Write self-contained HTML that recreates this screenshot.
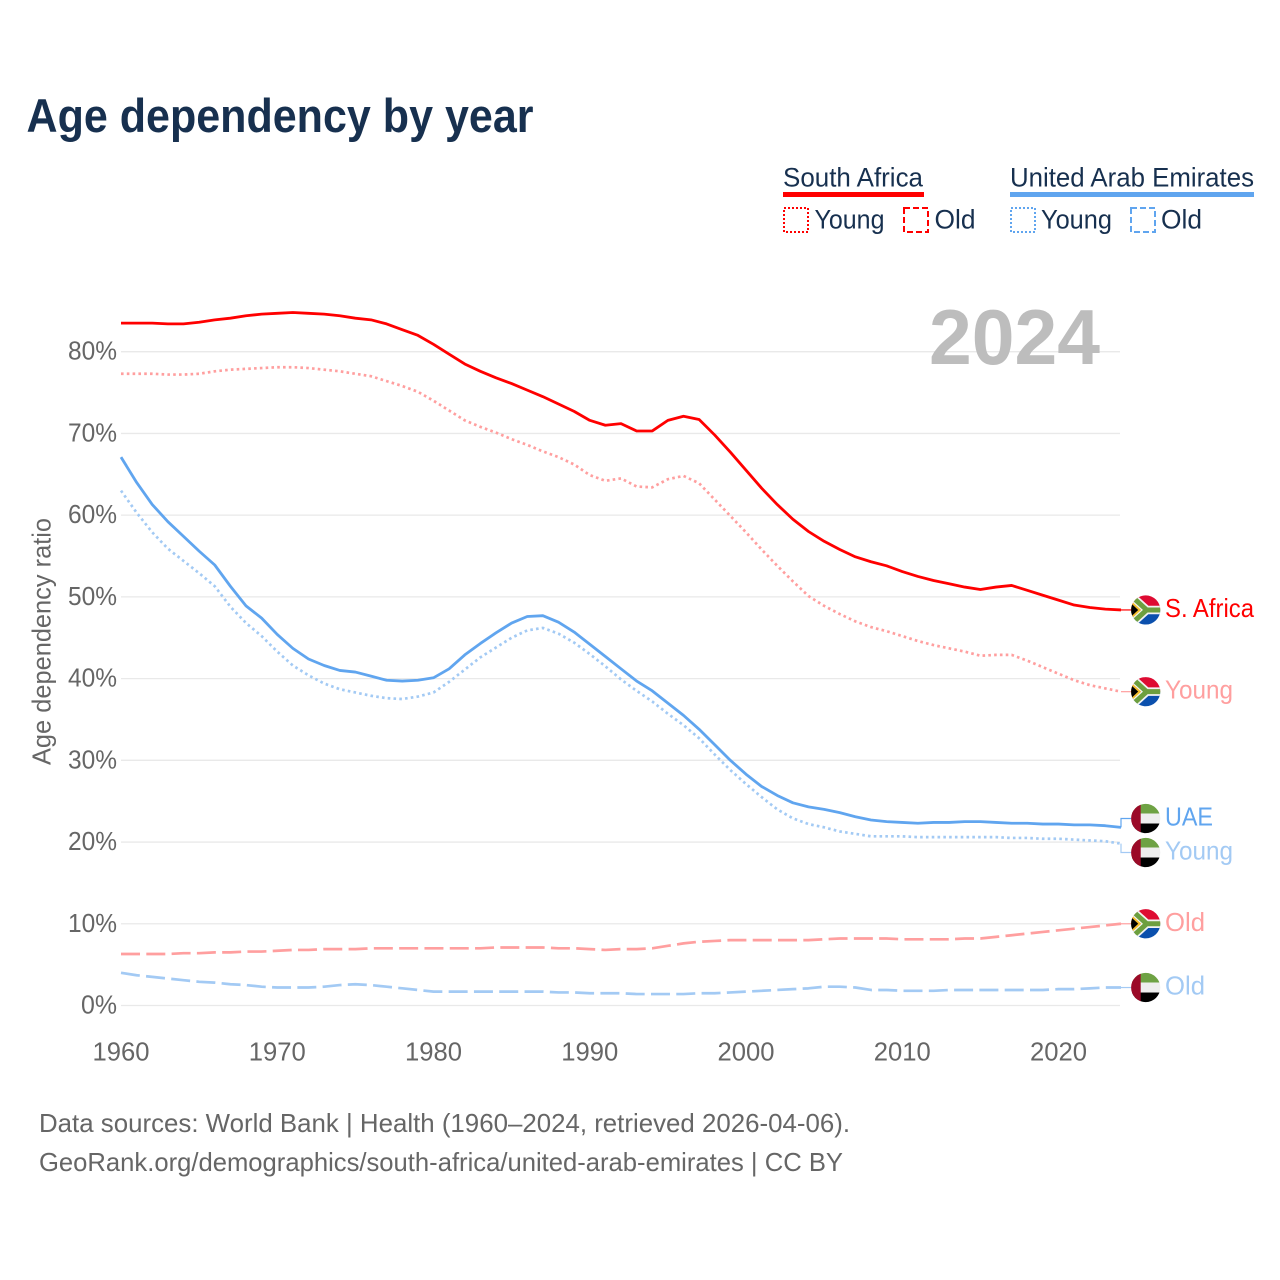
<!DOCTYPE html>
<html lang="en">
<head>
<meta charset="utf-8">
<title>Age dependency by year</title>
<style>
html,body{margin:0;padding:0;background:#fff;}
svg{display:block;font-family:"Liberation Sans",Arial,sans-serif;}
</style>
</head>
<body>
<svg id="chart" xmlns="http://www.w3.org/2000/svg" width="1280" height="1280" viewBox="0 0 1280 1280">
  <defs>
    <clipPath id="flag-clip"><circle cx="0" cy="0" r="14.6"/></clipPath>
    <g id="flag-za" clip-path="url(#flag-clip)">
      <rect x="-15" y="-15" width="30" height="15" fill="#de0b32"/>
      <rect x="-15" y="0" width="30" height="15" fill="#0b50ad"/>
      <path d="M-15,-14.5 L1,0 L15,0 M-15,14.5 L1,0" fill="none" stroke="#f2f2f2" stroke-width="8.5"/>
      <path d="M-15,-14.5 L1,0 L15,0 M-15,14.5 L1,0" fill="none" stroke="#6d9f3f" stroke-width="5"/>
      <polygon points="-15,-9.5 -4.5,0 -15,9.5" fill="#f5bd2e"/>
      <polygon points="-15,-7 -7.5,0 -15,7" fill="#000"/>
    </g>
    <g id="flag-ae" clip-path="url(#flag-clip)">
      <rect x="-15" y="-15" width="30" height="10" fill="#6ea244"/>
      <rect x="-15" y="-5" width="30" height="10" fill="#eeeeee"/>
      <rect x="-15" y="5" width="30" height="10" fill="#000"/>
      <rect x="-15" y="-15" width="10" height="30" fill="#9b0a28"/>
    </g>
  </defs>

  <text x="26.5" y="132" font-size="47" font-weight="700" fill="#17304f" textLength="507" lengthAdjust="spacingAndGlyphs">Age dependency by year</text>

  <g fill="#17304f" font-size="27">
    <g>
      <text x="783" y="186.5" textLength="140" lengthAdjust="spacingAndGlyphs">South Africa</text>
      <rect x="783" y="192" width="141" height="5" fill="#ff0000"/>
      <rect x="784" y="208" width="24" height="24" fill="none" stroke="#ff0000" stroke-width="2" stroke-dasharray="2 2"/>
      <text x="814.5" y="228.5" textLength="70" lengthAdjust="spacingAndGlyphs">Young</text>
      <rect x="904" y="208" width="24" height="24" fill="none" stroke="#ff0000" stroke-width="2" stroke-dasharray="6 3"/>
      <text x="934.5" y="228.5" textLength="41" lengthAdjust="spacingAndGlyphs">Old</text>
    </g>
    <g>
      <text x="1010" y="186.5" textLength="244" lengthAdjust="spacingAndGlyphs">United Arab Emirates</text>
      <rect x="1010" y="192" width="244" height="5" fill="#60a5ef"/>
      <rect x="1011" y="208" width="24" height="24" fill="none" stroke="#60a5ef" stroke-width="2" stroke-dasharray="2 2"/>
      <text x="1041" y="228.5" textLength="71" lengthAdjust="spacingAndGlyphs">Young</text>
      <rect x="1131" y="208" width="24" height="24" fill="none" stroke="#60a5ef" stroke-width="2" stroke-dasharray="6 3"/>
      <text x="1161" y="228.5" textLength="41" lengthAdjust="spacingAndGlyphs">Old</text>
    </g>
  </g>

  <g id="grid"></g>
  <text x="929" y="364" font-size="78" font-weight="700" fill="#bdbdbd" textLength="171" lengthAdjust="spacingAndGlyphs">2024</text>
  <g id="y-ticks"></g>
  <g id="x-ticks"></g>
  <text transform="translate(50.5,765) rotate(-90)" font-size="26" fill="#666666" textLength="247" lengthAdjust="spacingAndGlyphs">Age dependency ratio</text>
  <g id="series"></g>
  <g id="end-labels"></g>

  <g font-size="26" fill="#666666">
    <text x="39" y="1132" textLength="811" lengthAdjust="spacingAndGlyphs">Data sources: World Bank | Health (1960–2024, retrieved 2026-04-06).</text>
    <text x="39" y="1171" textLength="804" lengthAdjust="spacingAndGlyphs">GeoRank.org/demographics/south-africa/united-arab-emirates | CC BY</text>
  </g>
</svg>
<script>
const firstYear = 1960;
const yTicks = [0, 10, 20, 30, 40, 50, 60, 70, 80];
const xTicks = [1960, 1970, 1980, 1990, 2000, 2010, 2020];

const southAfricaTotal = [
  83.5,83.5,83.5,83.4,83.4,83.6,83.9,84.1,84.4,84.6,
  84.7,84.8,84.7,84.6,84.4,84.1,83.9,83.4,82.7,82.0,
  80.9,79.7,78.5,77.6,76.8,76.1,75.3,74.5,73.6,72.7,
  71.6,71.0,71.2,70.3,70.3,71.6,72.1,71.7,69.8,67.7,
  65.5,63.3,61.3,59.5,58.0,56.8,55.8,54.9,54.3,53.8,
  53.1,52.5,52.0,51.6,51.2,50.9,51.2,51.4,50.8,50.2,
  49.6,49.0,48.7,48.5,48.4
];
const southAfricaYoung = [
  77.3,77.3,77.3,77.2,77.2,77.3,77.6,77.8,77.9,78.0,
  78.1,78.1,78.0,77.8,77.6,77.3,77.0,76.4,75.8,75.1,
  74.0,72.8,71.6,70.8,70.1,69.3,68.6,67.8,67.1,66.2,
  64.9,64.2,64.5,63.5,63.4,64.4,64.8,63.9,61.9,59.9,
  57.9,55.8,53.8,51.9,50.1,48.9,47.9,47.0,46.3,45.8,
  45.2,44.6,44.1,43.7,43.3,42.8,42.9,42.9,42.2,41.4,
  40.6,39.8,39.2,38.8,38.4
];
const southAfricaOld = [
  6.3,6.3,6.3,6.3,6.4,6.4,6.5,6.5,6.6,6.6,
  6.7,6.8,6.8,6.9,6.9,6.9,7.0,7.0,7.0,7.0,
  7.0,7.0,7.0,7.0,7.1,7.1,7.1,7.1,7.0,7.0,
  6.9,6.8,6.9,6.9,7.0,7.3,7.6,7.8,7.9,8.0,
  8.0,8.0,8.0,8.0,8.0,8.1,8.2,8.2,8.2,8.2,
  8.1,8.1,8.1,8.1,8.2,8.2,8.4,8.6,8.8,9.0,
  9.2,9.4,9.6,9.8,10.0
];
const uaeTotal = [
  67.1,64.0,61.3,59.2,57.4,55.6,53.9,51.3,48.9,47.4,
  45.4,43.7,42.4,41.6,41.0,40.8,40.3,39.8,39.7,39.8,
  40.1,41.2,42.9,44.3,45.6,46.8,47.6,47.7,46.9,45.7,
  44.2,42.7,41.2,39.7,38.5,37.0,35.5,33.8,31.9,30.0,
  28.3,26.8,25.7,24.8,24.3,24.0,23.6,23.1,22.7,22.5,
  22.4,22.3,22.4,22.4,22.5,22.5,22.4,22.3,22.3,22.2,
  22.2,22.1,22.1,22.0,21.8
];
const uaeYoung = [
  63.0,60.3,57.9,55.9,54.4,52.9,51.3,48.8,46.8,45.2,
  43.3,41.6,40.4,39.4,38.7,38.3,37.9,37.6,37.5,37.8,
  38.3,39.6,41.1,42.6,43.8,45.0,45.9,46.2,45.5,44.4,
  43.0,41.5,39.9,38.5,37.2,35.7,34.3,32.7,30.7,28.8,
  27.1,25.5,24.0,22.9,22.2,21.8,21.3,21.0,20.7,20.7,
  20.7,20.6,20.6,20.6,20.6,20.6,20.6,20.5,20.5,20.4,
  20.4,20.3,20.2,20.1,19.8
];
const uaeOld = [
  4.0,3.7,3.5,3.3,3.1,2.9,2.8,2.6,2.5,2.3,
  2.2,2.2,2.2,2.3,2.5,2.6,2.5,2.3,2.1,1.9,
  1.7,1.7,1.7,1.7,1.7,1.7,1.7,1.7,1.6,1.6,
  1.5,1.5,1.5,1.4,1.4,1.4,1.4,1.5,1.5,1.6,
  1.7,1.8,1.9,2.0,2.1,2.3,2.3,2.2,1.9,1.9,
  1.8,1.8,1.8,1.9,1.9,1.9,1.9,1.9,1.9,1.9,
  2.0,2.0,2.1,2.2,2.2
];

const SVG_NS = 'http://www.w3.org/2000/svg';
const xScale = function (year) { return 121 + (year - firstYear) * 15.625; };
const yScale = function (value) { return 1005.5 - value * 8.1725; };

function make(tag, attrs, parent) {
  const el = document.createElementNS(SVG_NS, tag);
  for (const k in attrs) el.setAttribute(k, attrs[k]);
  parent.appendChild(el);
  return el;
}

const gridGroup = document.getElementById('grid');
const yTickGroup = document.getElementById('y-ticks');
const xTickGroup = document.getElementById('x-ticks');
const seriesGroup = document.getElementById('series');
const labelGroup = document.getElementById('end-labels');

yTicks.forEach(function (tick) {
  const line = make('line', { x1: 121, x2: 1120, y1: yScale(tick), y2: yScale(tick), stroke: '#e9e9e9', 'stroke-width': 1.3 }, gridGroup);
  
  
  const label = make('text', { x: 117, y: yScale(tick) + 8, 'text-anchor': 'end', 'font-size': 26, fill: '#666666', textLength: tick === 0 ? 36 : 49, lengthAdjust: 'spacingAndGlyphs' }, yTickGroup);
  
  
  label.textContent = tick + '%';
});

xTicks.forEach(function (tick) {
  const label = make('text', { x: xScale(tick), y: 1060.5, 'text-anchor': 'middle', 'font-size': 26, fill: '#666666', textLength: 57, lengthAdjust: 'spacingAndGlyphs' }, xTickGroup);
  
  
  label.textContent = tick;
});

const seriesList = [
  { key: 'uae-old', values: uaeOld, color: '#a3caf4', width: 2.7, dash: '19 6.3', label: 'Old', flag: 'flag-ae' },
  { key: 'south-africa-old', values: southAfricaOld, color: '#ff9f9f', width: 2.7, dash: '19 6.3', label: 'Old', flag: 'flag-za' },
  { key: 'uae-young', values: uaeYoung, color: '#a3caf4', width: 2.7, dash: '2.6 3.2', label: 'Young', flag: 'flag-ae' },
  { key: 'south-africa-young', values: southAfricaYoung, color: '#ff9f9f', width: 2.7, dash: '2.6 3.2', label: 'Young', flag: 'flag-za' },
  { key: 'uae-total', values: uaeTotal, color: '#60a5ef', width: 2.8, dash: '', label: 'UAE', flag: 'flag-ae' },
  { key: 'south-africa-total', values: southAfricaTotal, color: '#ff0000', width: 2.8, dash: '', label: 'S. Africa', flag: 'flag-za' }
];
const labelWidths = { 'S. Africa': 89, 'Young': 68, 'UAE': 48, 'Old': 40 };

seriesList.forEach(function (s) {
  const pts = s.values.map(function (v, i) { return xScale(firstYear + i).toFixed(2) + ',' + yScale(v).toFixed(2); }).join(' ');
  const line = make('polyline', { points: pts, fill: 'none', stroke: s.color, 'stroke-width': s.width, 'stroke-linejoin': 'round', 'stroke-dasharray': s.dash }, seriesGroup);
  
  
});

/* Spread end labels so flags do not collide. */
const placed = seriesList.map(function (s) {
  const end = yScale(s.values[s.values.length - 1]);
  return { s: s, end: end, y: end };
}).sort(function (a, b) { return a.y - b.y; });
for (let pass = 0; pass < 8; pass++) {
  for (let i = 1; i < placed.length; i++) {
    const gap = placed[i].y - placed[i - 1].y;
    if (gap < 34) {
      const shift = (34 - gap) / 2;
      placed[i - 1].y -= shift;
      placed[i].y += shift;
    }
  }
}

placed.forEach(function (p) {
  const s = p.s;
  const lastX = xScale(firstYear + s.values.length - 1);
  const leader = make('path', { d: 'M' + lastX + ',' + p.end + ' V' + p.y + ' H1131', fill: 'none', stroke: s.color, 'stroke-width': 1.2 }, labelGroup);
  
  
  const flag = make('use', { href: '#' + s.flag, x: 1145.7, y: p.y }, labelGroup);
  
  
  const label = make('text', { x: 1165, y: p.y + 7, 'font-size': 26, fill: s.color, textLength: labelWidths[s.label], lengthAdjust: 'spacingAndGlyphs' }, labelGroup);
  
  
  label.textContent = s.label;
});
</script>
</body>
</html>
